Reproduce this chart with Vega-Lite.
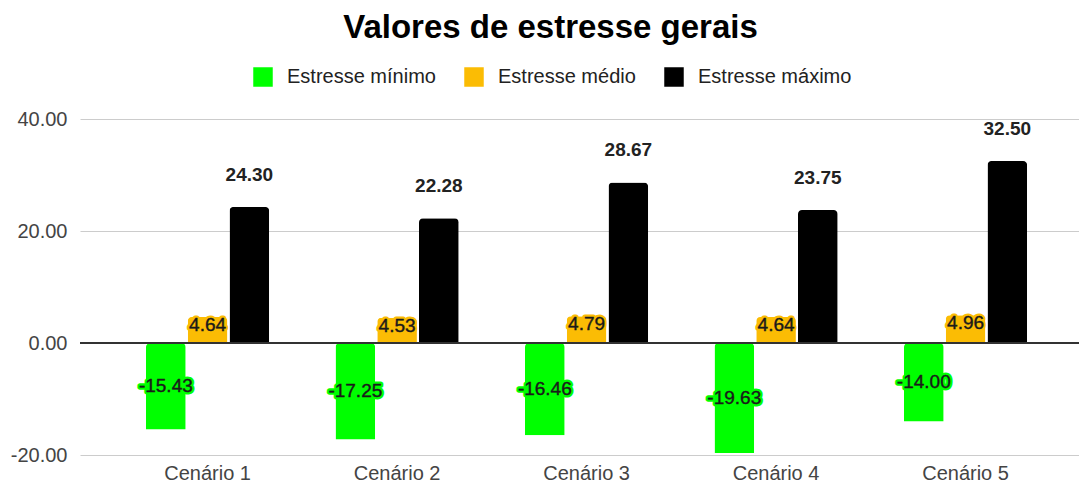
{
  "$schema": "https://vega.github.io/schema/vega-lite/v6.json",
  "width": 999,
  "height": 336,
  "autosize": {"type": "none"},
  "padding": {"left": 80, "top": 119, "right": 0, "bottom": 32},
  "background": "white",
  "title": {"text": "Valores de estresse gerais", "font": "Liberation Sans", "fontSize": 33, "fontWeight": "bold", "color": "#000000", "anchor": "middle", "frame": "group", "dx": -29, "offset": 22},
  "config": {
    "view": {"stroke": null},
    "font": "Liberation Sans",
    "locale": {"number": {"decimal": ".", "thousands": ",", "grouping": [3], "currency": ["$", ""], "minus": "-"}},
    "axis": {"labelFont": "Liberation Sans", "labelColor": "#444444", "labelFontSize": 20, "domain": false, "ticks": false, "title": null},
    "legend": {"labelFont": "Liberation Sans"}
  },
  "data": {
    "values": [
      {"cenario": "Cenário 1", "serie": "Estresse mínimo", "valor": -15.43},
      {"cenario": "Cenário 1", "serie": "Estresse médio", "valor": 4.64},
      {"cenario": "Cenário 1", "serie": "Estresse máximo", "valor": 24.30},
      {"cenario": "Cenário 2", "serie": "Estresse mínimo", "valor": -17.25},
      {"cenario": "Cenário 2", "serie": "Estresse médio", "valor": 4.53},
      {"cenario": "Cenário 2", "serie": "Estresse máximo", "valor": 22.28},
      {"cenario": "Cenário 3", "serie": "Estresse mínimo", "valor": -16.46},
      {"cenario": "Cenário 3", "serie": "Estresse médio", "valor": 4.79},
      {"cenario": "Cenário 3", "serie": "Estresse máximo", "valor": 28.67},
      {"cenario": "Cenário 4", "serie": "Estresse mínimo", "valor": -19.63},
      {"cenario": "Cenário 4", "serie": "Estresse médio", "valor": 4.64},
      {"cenario": "Cenário 4", "serie": "Estresse máximo", "valor": 23.75},
      {"cenario": "Cenário 5", "serie": "Estresse mínimo", "valor": -14.00},
      {"cenario": "Cenário 5", "serie": "Estresse médio", "valor": 4.96},
      {"cenario": "Cenário 5", "serie": "Estresse máximo", "valor": 32.50}
    ]
  },
  "encoding": {
    "x": {"field": "cenario", "type": "nominal", "sort": null,
      "scale": {"paddingInner": 0.35, "paddingOuter": 0.311, "align": 0.56},
      "axis": {"labelAngle": 0, "labelPadding": 8, "grid": false}},
    "xOffset": {"field": "serie", "type": "nominal",
      "scale": {"domain": ["Estresse mínimo", "Estresse médio", "Estresse máximo"], "paddingInner": 0.05, "paddingOuter": 0}}
  },
  "layer": [
    {
      "mark": {"type": "bar", "cornerRadiusEnd": 4},
      "encoding": {
        "y": {"field": "valor", "type": "quantitative",
          "scale": {"domain": [-20, 40], "nice": false, "zero": false},
          "axis": {"values": [-20, 0, 20, 40], "format": ".2f", "gridColor": "#cccccc", "labelPadding": 13, "tickCount": 4}},
        "color": {"field": "serie", "type": "nominal",
          "scale": {"domain": ["Estresse mínimo", "Estresse médio", "Estresse máximo"], "range": ["#00ff00", "#fbbc04", "#000000"]},
          "legend": {"title": null, "orient": "none", "direction": "horizontal", "legendX": 173, "legendY": -52,
            "symbolType": "square", "symbolSize": 380, "symbolStrokeWidth": 0, "labelFontSize": 20, "labelColor": "#222222",
            "labelOffset": 14, "columnPadding": 28}}
      }
    },
    {
      "mark": {"type": "rule", "color": "#333333", "strokeWidth": 1.5},
      "encoding": {"y": {"datum": 0}, "xOffset": null, "x": null}
    },
    {
      "transform": [{"filter": "datum.serie == 'Estresse máximo'"}],
      "mark": {"type": "text", "baseline": "middle", "dy": -32, "fontSize": 19, "fontWeight": "bold", "color": "#222222"},
      "encoding": {"y": {"field": "valor", "type": "quantitative"}, "text": {"field": "valor", "type": "quantitative", "format": ".2f"}}
    },
    {
      "transform": [{"filter": "datum.serie == 'Estresse médio'"}],
      "mark": {"type": "text", "baseline": "middle", "dy": 8, "fontSize": 19, "stroke": "#fbbc04", "strokeWidth": 5, "strokeJoin": "round", "color": "#fbbc04"},
      "encoding": {"y": {"field": "valor", "type": "quantitative"}, "text": {"field": "valor", "type": "quantitative", "format": ".2f"}}
    },
    {
      "transform": [{"filter": "datum.serie == 'Estresse médio'"}],
      "mark": {"type": "text", "baseline": "middle", "dy": 8, "fontSize": 19, "color": "#1a1a1a", "stroke": "#1a1a1a", "strokeWidth": 0.4},
      "encoding": {"y": {"field": "valor", "type": "quantitative"}, "text": {"field": "valor", "type": "quantitative", "format": ".2f"}}
    },
    {
      "transform": [{"filter": "datum.serie == 'Estresse mínimo'"}, {"calculate": "datum.valor / 2", "as": "meio"}],
      "mark": {"type": "text", "baseline": "middle", "fontSize": 19, "stroke": "#00ff00", "strokeWidth": 5, "strokeJoin": "round", "color": "#00ff00"},
      "encoding": {"y": {"field": "meio", "type": "quantitative"}, "text": {"field": "valor", "type": "quantitative", "format": ".2f"}}
    },
    {
      "transform": [{"filter": "datum.serie == 'Estresse mínimo'"}, {"calculate": "datum.valor / 2", "as": "meio"}],
      "mark": {"type": "text", "baseline": "middle", "fontSize": 19, "color": "#1a1a1a", "stroke": "#1a1a1a", "strokeWidth": 0.4},
      "encoding": {"y": {"field": "meio", "type": "quantitative"}, "text": {"field": "valor", "type": "quantitative", "format": ".2f"}}
    }
  ]
}
